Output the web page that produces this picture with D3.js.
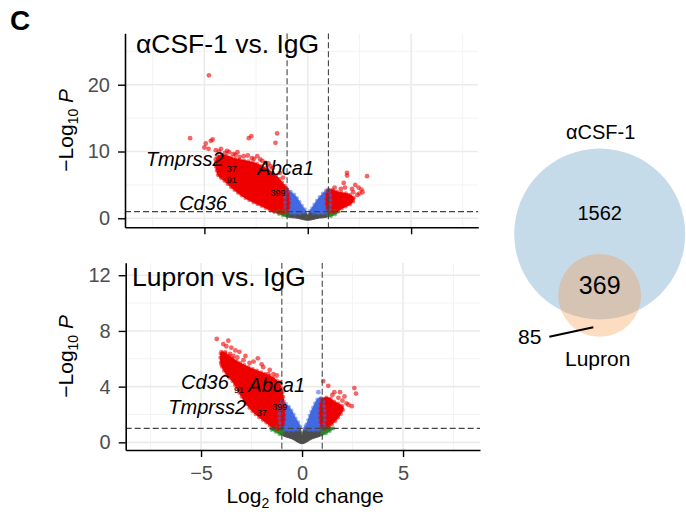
<!DOCTYPE html>
<html>
<head>
<meta charset="utf-8">
<script src="https://cdnjs.cloudflare.com/ajax/libs/d3/7.8.5/d3.min.js"></script>
<style>
  body { margin: 0; background: #fff; }
  text { font-family: "Liberation Sans", Arial, Helvetica, sans-serif; }
</style>
</head>
<body>
<svg id="fig" width="686" height="518"></svg>
<script>
// ---- data (x = log2 fold change, y = -log10 P) ----
const xTicks = [-5, 0, 5];
const xMinor = [-7.5, -2.5, 2.5, 7.5];
const topYTicks = [0, 10, 20];
const topYMinor = [5, 15, 25];
const botYTicks = [0, 4, 8, 12];
const botYMinor = [2, 6, 10];
const pCut = 1;
const fcCut = 1;

// outlines of the dense point clouds
const topRedLeft = [[-4.35, 6.5], [-4.35, 9.3], [-4.0, 9.4], [-3.5, 8.9], [-3.0, 8.6], [-2.5, 8.2], [-2.0, 7.4],
  [-1.5, 6.3], [-1.2, 5.2], [-1.0, 4.4], [-1.0, 1.0], [-1.56, 0.95], [-2.2, 1.8], [-3.0, 3.0], [-3.65, 4.5], [-4.1, 5.8]];
const topRedRight = [[1.0, 1.0], [1.0, 4.3], [1.5, 3.9], [1.98, 3.6], [2.25, 3.0], [2.14, 2.3], [1.66, 1.5], [1.34, 0.95]];
const topBlueLeft = [[-1.0, 1.0], [-1.0, 4.3], [-0.8, 3.9], [-0.59, 3.3], [-0.27, 1.8], [-0.1, 1.0]];
const topBlueRight = [[0.12, 1.0], [0.21, 1.5], [0.53, 3.0], [0.8, 3.9], [1.0, 4.3], [1.0, 1.0]];
const topGreenLeft = [[-1.6, 1.0], [-1.0, 1.0], [-1.0, 0.3], [-1.3, 0.55]];
const topGreenRight = [[1.0, 1.0], [1.5, 1.0], [1.3, 0.55], [1.0, 0.3]];
const topGrey = [[-1.0, 1.0], [-0.12, 1.0], [0, 0.5], [0.12, 1.0], [1.0, 1.0], [1.0, 0.3], [0.5, 0.0], [0, -0.3], [-0.5, 0.0], [-1.0, 0.3]];

const botRedLeft = [[-4.0, 5.6], [-4.0, 6.5], [-3.7, 6.3], [-3.2, 5.8], [-2.5, 5.3], [-1.8, 4.9], [-1.3, 4.5], [-1.0, 3.8],
  [-1.0, 1.0], [-1.35, 1.0], [-1.8, 1.45], [-2.5, 2.3], [-3.0, 3.3], [-3.4, 4.3], [-3.8, 5.0]];
const botRedRight = [[1.0, 1.0], [1.0, 3.1], [1.3, 3.2], [1.63, 2.9], [2.04, 2.5], [1.8, 1.8], [1.3, 1.06], [1.2, 1.0]];
const botBlueLeft = [[-1.0, 1.0], [-1.0, 2.9], [-0.68, 2.6], [-0.35, 1.8], [-0.1, 1.0]];
const botBlueRight = [[0.1, 1.0], [0.23, 1.3], [0.48, 2.27], [0.85, 3.2], [1.0, 3.1], [1.0, 1.0]];
const botGreenLeft = [[-1.6, 1.0], [-1.0, 1.0], [-1.0, 0.55], [-1.3, 0.75]];
const botGreenRight = [[1.0, 1.0], [1.55, 1.0], [1.3, 0.75], [1.0, 0.55]];
const botGrey = [[-1.0, 1.0], [-0.12, 1.0], [0, 0.55], [0.12, 1.0], [1.0, 1.0], [1.0, 0.55], [0.5, 0.25], [0, -0.1], [-0.5, 0.25], [-1.0, 0.55]];

// single genes standing out of the clouds
const topRedPts = [[-4.78, 21.4], [-5.69, 12.0], [-4.93, 11.2], [-4.69, 11.6], [-4.6, 11.8], [-4.45, 10.2], [-4.3, 10.0],
  [-4.0, 9.8], [-3.8, 9.9], [-3.5, 9.5], [-3.3, 9.2], [-2.85, 12.0], [-2.73, 12.3], [-2.44, 9.3], [-2.6, 8.9],
  [-1.48, 12.7], [-1.56, 11.3], [-1.9, 8.2], [-2.2, 8.6], [-1.7, 7.5], [-5.0, 10.6], [-4.8, 10.4], [-3.1, 9.3],
  [-4.2, 10.4], [-3.9, 10.1], [-3.6, 9.6], [-3.4, 9.9], [-2.9, 9.4], [-2.7, 9.0], [-2.3, 8.8], [-2.05, 8.3],
  [-1.8, 7.8], [-1.35, 6.8], [-1.2, 6.1], [-4.45, 8.8], [-4.4, 7.6],
  [1.9, 6.8], [1.9, 6.4], [2.87, 6.3], [1.74, 5.3], [2.3, 5.0], [2.46, 4.6], [2.6, 4.3], [2.14, 4.4], [1.3, 4.6],
  [1.6, 4.4], [2.5, 3.7], [2.65, 3.9], [2.4, 3.5], [2.2, 3.9], [1.8, 4.6]];
const botRedPts = [[-4.22, 7.42], [-3.9, 7.06], [-3.65, 7.3], [-3.81, 6.46], [-3.56, 6.35], [-3.98, 5.6], [-3.4, 6.2],
  [-3.2, 6.1], [-2.9, 5.9], [-2.19, 6.03], [-1.92, 5.4], [-1.67, 4.9], [-1.42, 4.9], [-2.6, 5.7], [-3.1, 6.5],
  [-3.75, 6.9], [-3.5, 6.8], [-3.3, 6.6], [-2.8, 6.2], [-2.4, 5.8], [-2.0, 5.6], [-1.6, 5.2], [-1.25, 4.8], [-1.1, 4.3],
  [1.05, 4.4], [1.3, 4.06], [1.88, 3.6], [2.59, 3.9], [2.67, 3.5], [2.46, 2.6], [1.8, 3.2], [2.0, 3.0], [1.5, 3.4],
  [2.2, 2.8], [2.3, 2.7], [2.1, 3.3], [1.6, 3.6]];
const botBluePts = [[0.81, 3.6]];

// gene labels [text, x, y, size, italic]
const topLabels = [['Tmprss2', -7.83, 7.77, 20, true], ['Abca1', -2.44, 6.52, 20, true], ['Cd36', -6.22, 1.27, 20, true],
  ['37', -3.92, 7.0, 9, false], ['91', -3.92, 5.3, 9, false], ['399', -1.8, 3.27, 9, false]];
const botLabels = [['Cd36', -5.99, 3.83, 20, true], ['Abca1', -2.66, 3.65, 20, true], ['Tmprss2', -6.62, 2.07, 20, true],
  ['91', -3.37, 3.56, 9, false], ['37', -2.24, 1.9, 9, false], ['399', -1.47, 2.32, 9, false]];

// venn: only aCSF-1, both, only Lupron
const vennNames = ['αCSF-1', 'Lupron'];
const vennCounts = [1562, 369, 85];

const colRed = '#EE0000', colBlue = '#4169E1', colGreen = '#228B22', colGrey = '#4D4D4D';

const panels = [
  { title: 'αCSF-1 vs. IgG', titleAt: [-8.31, 24.8], xDomain: [-8.84, 8.25], yDomain: [-1.35, 27.7],
    left: 125, right: 478.3, top: 33.3, bottom: 227.3, yTicks: topYTicks, yMinor: topYMinor, xLabels: false,
    clouds: [[topGrey, colGrey], [topGreenLeft, colGreen], [topGreenRight, colGreen], [topBlueLeft, colBlue],
      [topBlueRight, colBlue], [topRedLeft, colRed], [topRedRight, colRed]],
    points: [[topRedPts, colRed]], labels: topLabels },
  { title: 'Lupron vs. IgG', titleAt: [-8.42, 11.2], xDomain: [-8.73, 8.81], yDomain: [-0.55, 12.9],
    left: 125.7, right: 480, top: 262.7, bottom: 450, yTicks: botYTicks, yMinor: botYMinor, xLabels: true,
    clouds: [[botGrey, colGrey], [botGreenLeft, colGreen], [botGreenRight, colGreen], [botBlueLeft, colBlue],
      [botBlueRight, colBlue], [botRedLeft, colRed], [botRedRight, colRed]],
    points: [[botRedPts, colRed], [botBluePts, colBlue]], labels: botLabels }
];

const svg = d3.select('#fig');

svg.append('text').attr('x', 10).attr('y', 30)
  .attr('font-size', 28).attr('font-weight', 'bold').text('C');

function drawPanel(p, idx) {
  const x = d3.scaleLinear().domain(p.xDomain).range([p.left, p.right]);
  const y = d3.scaleLinear().domain(p.yDomain).range([p.bottom, p.top]);
  const clipId = 'clip' + idx;
  svg.append('clipPath').attr('id', clipId).append('rect')
    .attr('x', p.left).attr('y', p.top).attr('width', p.right - p.left).attr('height', p.bottom - p.top);
  const g = svg.append('g').attr('clip-path', `url(#${clipId})`);

  // grid
  g.selectAll('.vmin').data(xMinor).join('line').attr('class', 'vmin')
    .attr('x1', d => x(d)).attr('x2', d => x(d)).attr('y1', p.top).attr('y2', p.bottom)
    .attr('stroke', '#f3f3f3').attr('stroke-width', 1);
  g.selectAll('.hmin').data(p.yMinor).join('line').attr('class', 'hmin')
    .attr('y1', d => y(d)).attr('y2', d => y(d)).attr('x1', p.left).attr('x2', p.right)
    .attr('stroke', '#f3f3f3').attr('stroke-width', 1);
  g.selectAll('.vmaj').data(xTicks).join('line').attr('class', 'vmaj')
    .attr('x1', d => x(d)).attr('x2', d => x(d)).attr('y1', p.top).attr('y2', p.bottom)
    .attr('stroke', '#ebebeb').attr('stroke-width', 1.6);
  g.selectAll('.hmaj').data(p.yTicks).join('line').attr('class', 'hmaj')
    .attr('y1', d => y(d)).attr('y2', d => y(d)).attr('x1', p.left).attr('x2', p.right)
    .attr('stroke', '#ebebeb').attr('stroke-width', 1.6);

  // dense clouds: solid body plus a dotted rim so the edge reads as points
  const outline = d3.line().x(d => x(d[0])).y(d => y(d[1])).curve(d3.curveCatmullRomClosed.alpha(0.5));
  g.selectAll('.cloud').data(p.clouds).join('path').attr('class', 'cloud')
    .attr('d', d => outline(d[0]))
    .attr('fill', d => d[1]).attr('stroke', d => d[1])
    .attr('stroke-width', 1).attr('stroke-linejoin', 'round');
  g.selectAll('.rim').data(p.clouds.filter(c => c[1] !== colGrey)).join('path').attr('class', 'rim')
    .attr('d', d => outline(d[0]))
    .attr('fill', 'none').attr('stroke', d => d[1]).attr('stroke-opacity', 0.55)
    .attr('stroke-width', 4.2).attr('stroke-linecap', 'round').attr('stroke-dasharray', '0,4.5');

  // single points
  p.points.forEach(([pts, col]) => {
    g.append('g').selectAll('circle').data(pts).join('circle')
      .attr('cx', d => x(d[0])).attr('cy', d => y(d[1])).attr('r', 2.4)
      .attr('fill', col).attr('fill-opacity', 0.6);
  });

  // cut-off lines
  g.selectAll('.vcut').data([-fcCut, fcCut]).join('line').attr('class', 'vcut')
    .attr('x1', d => x(d)).attr('x2', d => x(d)).attr('y1', p.top).attr('y2', p.bottom)
    .attr('stroke', '#444').attr('stroke-width', 1.1).attr('stroke-dasharray', '6,3');
  g.append('line')
    .attr('x1', p.left).attr('x2', p.right).attr('y1', y(pCut)).attr('y2', y(pCut))
    .attr('stroke', '#444').attr('stroke-width', 1.1).attr('stroke-dasharray', '6,3');

  // gene labels
  g.selectAll('.lab').data(p.labels).join('text').attr('class', 'lab')
    .attr('x', d => x(d[1])).attr('y', d => y(d[2]))
    .attr('font-size', d => d[3]).attr('font-style', d => d[4] ? 'italic' : 'normal')
    .text(d => d[0]);

  // title
  svg.append('text').attr('x', x(p.titleAt[0])).attr('y', y(p.titleAt[1]))
    .attr('font-size', 26.5).text(p.title);

  // axes
  const yAxis = d3.axisLeft(y).tickValues(p.yTicks).tickSize(7).tickSizeOuter(0).tickPadding(8);
  const ya = svg.append('g').attr('transform', `translate(${p.left},0)`).call(yAxis);
  const xAxis = d3.axisBottom(x).tickValues(xTicks).tickSize(7).tickSizeOuter(0).tickPadding(9);
  if (!p.xLabels) xAxis.tickFormat('');
  const xa = svg.append('g').attr('transform', `translate(0,${p.bottom})`).call(xAxis);
  [ya, xa].forEach(a => {
    a.select('.domain').attr('stroke', '#000').attr('stroke-width', 1.6);
    a.selectAll('.tick line').attr('stroke', '#000').attr('stroke-width', 1.4);
    a.selectAll('.tick text').attr('fill', '#4d4d4d').attr('font-size', 20)
      .attr('font-family', '"Liberation Sans", Arial, sans-serif');
  });

  // y title
  const yt = svg.append('text')
    .attr('transform', `translate(73,${(p.top + p.bottom) / 2}) rotate(-90)`)
    .attr('text-anchor', 'middle').attr('font-size', 21);
  yt.append('tspan').text('\u2212Log');
  yt.append('tspan').attr('font-size', 14).attr('dy', 5).text('10');
  yt.append('tspan').attr('dy', -5).text('\u00a0');
  yt.append('tspan').attr('font-style', 'italic').text('P');

  return x;
}

let lastX;
panels.forEach((p, i) => { lastX = drawPanel(p, i); });

// x title under the lower panel
const xt = svg.append('text').attr('x', lastX(0.15)).attr('y', 503)
  .attr('text-anchor', 'middle').attr('font-size', 21);
xt.append('tspan').text('Log');
xt.append('tspan').attr('font-size', 14).attr('dy', 5).text('2');
xt.append('tspan').attr('dy', -5).text(' fold change');

// ---- venn ----
const totalA = vennCounts[0] + vennCounts[1];
const totalB = vennCounts[1] + vennCounts[2];
const rScale = d3.scaleSqrt().domain([0, totalA]).range([0, 85.5]);
const rA = rScale(totalA), rB = rScale(totalB);
const unitArea = Math.PI * rA * rA / totalA;
const lens = d => {
  const a1 = Math.acos((d * d + rA * rA - rB * rB) / (2 * d * rA));
  const a2 = Math.acos((d * d + rB * rB - rA * rA) / (2 * d * rB));
  return rA * rA * a1 + rB * rB * a2 -
    0.5 * Math.sqrt((-d + rA + rB) * (d + rA - rB) * (d - rA + rB) * (d + rA + rB));
};
let lo = rA - rB + 1e-6, hi = rA + rB - 1e-6;
const target = vennCounts[1] * unitArea;
for (let i = 0; i < 60; i++) {
  const mid = (lo + hi) / 2;
  if (lens(mid) > target) lo = mid; else hi = mid;
}
const dist = (lo + hi) / 2;
const cA = [599.7, 234];
const cB = [cA[0], cA[1] + dist];

const venn = svg.append('g');
venn.append('circle').attr('cx', cA[0]).attr('cy', cA[1]).attr('r', rA).attr('fill', '#c6dbea');
venn.append('circle').attr('cx', cB[0]).attr('cy', cB[1]).attr('r', rB).attr('fill', '#f88e34').attr('fill-opacity', 0.3);

venn.append('text').attr('x', cA[0] + 1).attr('y', cA[1] - rA - 10)
  .attr('text-anchor', 'middle').attr('font-size', 20).text(vennNames[0]);
venn.append('text').attr('x', cA[0]).attr('y', cA[1] - 14)
  .attr('text-anchor', 'middle').attr('font-size', 20).text(vennCounts[0]);
venn.append('text').attr('x', cB[0]).attr('y', cB[1] - 1)
  .attr('text-anchor', 'middle').attr('font-size', 25).text(vennCounts[1]);
venn.append('line')
  .attr('x1', cB[0] - 50.4).attr('y1', cB[1] + rB)
  .attr('x2', cB[0] - 6.4).attr('y2', cB[1] + rB - 9.6)
  .attr('stroke', '#000').attr('stroke-width', 2);
venn.append('text').attr('x', cB[0] - 70).attr('y', cB[1] + rB + 7.5)
  .attr('text-anchor', 'middle').attr('font-size', 21).text(vennCounts[2]);
venn.append('text').attr('x', cB[0] - 2).attr('y', cB[1] + rB + 29)
  .attr('text-anchor', 'middle').attr('font-size', 21).text(vennNames[1]);
</script>
</body>
</html>
